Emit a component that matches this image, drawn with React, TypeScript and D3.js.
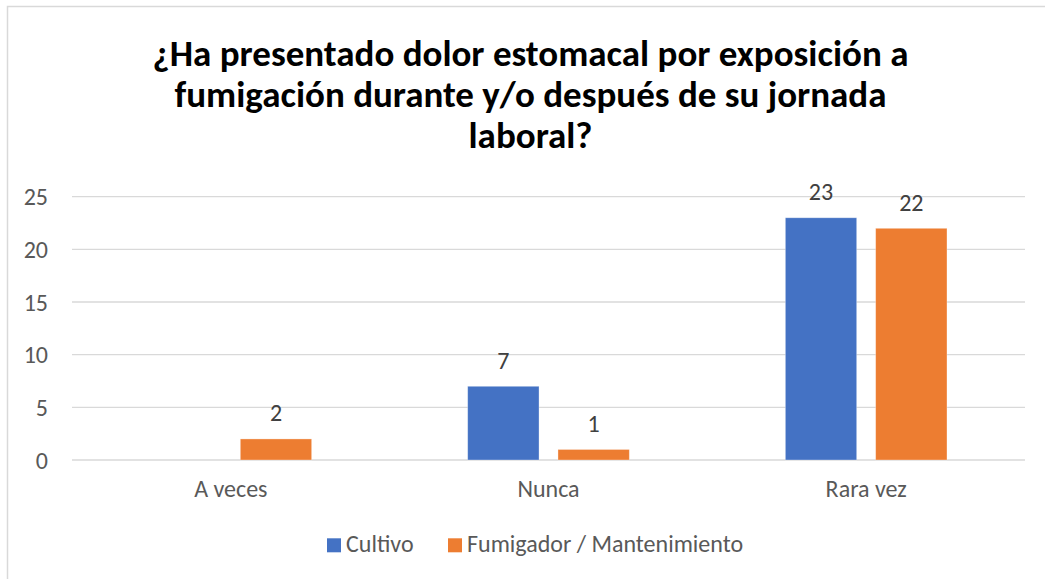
import React from "react";
import * as d3 from "d3";

const categories = ["A veces", "Nunca", "Rara vez"];
const seriesNames = ["Cultivo", "Fumigador / Mantenimiento"];
const cultivo = [0, 7, 23];
const fumigador = [2, 1, 22];
const seriesColors = ["#4472C4", "#ED7D31"];
const yTicks = [0, 5, 10, 15, 20, 25];
const titleLines = [
  "¿Ha presentado dolor estomacal por exposición a",
  "fumigación durante y/o después de su jornada",
  "laboral?",
];

const W = 1045;
const H = 579;
const FONT = "Carlito, Calibri, Lato, 'Open Sans', sans-serif";

export default function App() {
  const values = [cultivo, fumigador];
  const x0 = d3.scaleBand<string>().domain(categories).range([72, 1025]).padding(0);
  const x1 = d3
    .scaleBand<string>()
    .domain(seriesNames)
    .range([0, x0.bandwidth()])
    .paddingInner(0.21)
    .paddingOuter(0.864);
  const y = d3.scaleLinear().domain([0, 25]).range([460, 196.7]);

  return (
    <svg
      width={W}
      height={H}
      style={{ position: "absolute", left: 0, top: 0, display: "block" }}
      fontFamily={FONT}
    >
      <rect x={0} y={0} width={W} height={H} fill="#ffffff" />
      <rect x={7.5} y={6.5} width={W + 20} height={H + 20} fill="#ffffff" stroke="#d9d9d9" strokeWidth={1.5} />
      {titleLines.map((t, i) => (
        <text
          key={i}
          x={530.5}
          y={66 + i * 41}
          textAnchor="middle"
          fontSize={37}
          fontWeight="bold"
          fill="#000000"
        >
          {t}
        </text>
      ))}
      {yTicks.map((t) => (
        <g key={t}>
          <line x1={72} x2={1025} y1={y(t)} y2={y(t)} stroke="#d9d9d9" strokeWidth={1.3} />
          <text x={48} y={y(t)} dy="0.36em" textAnchor="end" fontSize={24} fill="#595959">
            {t}
          </text>
        </g>
      ))}
      {categories.map((c, ci) => (
        <g key={c} transform={`translate(${x0(c)},0)`}>
          {seriesNames.map((s, si) => {
            const v = values[si][ci];
            const bx = x1(s)!;
            return (
              <g key={s}>
                {v > 0 && (
                  <rect
                    x={bx}
                    y={y(v)}
                    width={x1.bandwidth()}
                    height={y(0) - y(v)}
                    fill={seriesColors[si]}
                    stroke="#ffffff"
                    strokeOpacity={0.4}
                    strokeWidth={0.8}
                  />
                )}
                {v > 0 && (
                  <text
                    x={bx + x1.bandwidth() / 2}
                    y={y(v) - 17.5}
                    textAnchor="middle"
                    fontSize={24}
                    fill="#404040"
                  >
                    {v}
                  </text>
                )}
              </g>
            );
          })}
          <text x={x0.bandwidth() / 2} y={497} textAnchor="middle" fontSize={24} fill="#595959">
            {c}
          </text>
        </g>
      ))}
      <g>
        <rect x={327} y={538.3} width={14} height={14} fill={seriesColors[0]} />
        <text x={346} y={552} fontSize={24} fill="#595959">
          {seriesNames[0]}
        </text>
        <rect x={448} y={538.3} width={14} height={14} fill={seriesColors[1]} />
        <text x={467} y={552} fontSize={24} fill="#595959">
          {seriesNames[1]}
        </text>
      </g>
    </svg>
  );
}
